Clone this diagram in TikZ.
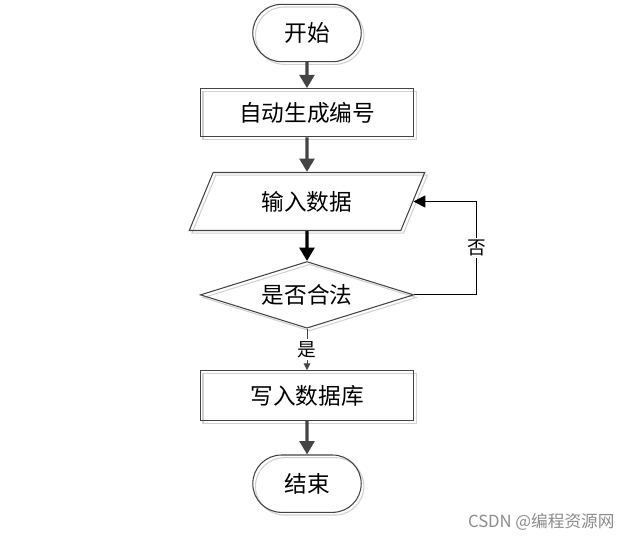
\documentclass[tikz,border=0pt]{standalone}
\usepackage{fontspec}
\newfontfamily\cjk{Noto Sans CJK SC}
\usepackage{tikz}
\usetikzlibrary{shapes.geometric, shapes.misc, arrows.meta, positioning, calc}
\definecolor{linegray}{HTML}{444444}

\begin{document}
\begin{tikzpicture}[
    node distance=19.5pt,
    ghost/.style={preaction={draw=black!18, line width=0.8pt, transform canvas={xshift=2pt, yshift=-2pt}}},
    startstop/.style={rounded rectangle, draw=linegray, line width=0.8pt, ghost, minimum width=88pt, minimum height=43pt, font=\cjk\fontsize{17}{19}\selectfont},
    block/.style={rectangle, draw=linegray, line width=0.8pt, ghost, minimum width=160pt, minimum height=36pt, font=\cjk\fontsize{17}{19}\selectfont},
    io/.style={trapezium, trapezium left angle=67, trapezium right angle=113, trapezium stretches=true, draw=linegray, line width=0.8pt, ghost, minimum width=178pt, minimum height=43.5pt, font=\cjk\fontsize{17}{19}\selectfont},
    decision/.style={diamond, aspect=3.2, draw=linegray, line width=0.8pt, ghost, minimum width=160pt, minimum height=50pt, inner sep=0pt, font=\cjk\fontsize{17}{19}\selectfont},
    arrow/.style={-{Triangle[length=10pt, width=11pt]}, line width=2.6pt, draw=linegray},
    line/.style={-{Triangle[length=9pt, width=9pt]}, line width=0.8pt, draw=black}
]
    \useasboundingbox (0,0) rectangle (481.5pt,-405pt);

    \node [startstop] (start) at (230.25pt,-24.75pt) {开始};
    \node [block, below=of start] (number) {自动生成编号};
    \node [io, below=26pt of number] (input) {输入数据};
    \node [decision, below=22.5pt of input] (check) {是否合法};
    \node [block, below=31pt of check, minimum height=37.5pt] (store) {写入数据库};
    \node [startstop, below=25pt of store] (stop) {结束};

    \coordinate [right=47pt of check.east] (turn);

    % Arrows
    \draw [arrow] (start) -- (number);
    \draw [arrow] (number) -- (input);
    \draw [arrow, draw=black] (input) -- (check);
    \draw [line] (check.east) -- (turn) |- (input.east) node [pos=0.25, fill=white, inner sep=1.5pt, font=\cjk\fontsize{14}{16}\selectfont] {否};
    \draw [-{Triangle[length=5pt, width=5pt]}, line width=0.6pt, draw=linegray] (check.south) -- (store.north) node [midway, fill=white, inner sep=1.5pt, font=\cjk\fontsize{14}{16}\selectfont] {是};
    \draw [arrow] (store) -- (stop);

    \node [text=black!45, font=\cjk\fontsize{12.5}{14}\selectfont] (mark) at (406pt,-391.5pt) {CSDN @编程资源网};

\end{tikzpicture}
\end{document}
